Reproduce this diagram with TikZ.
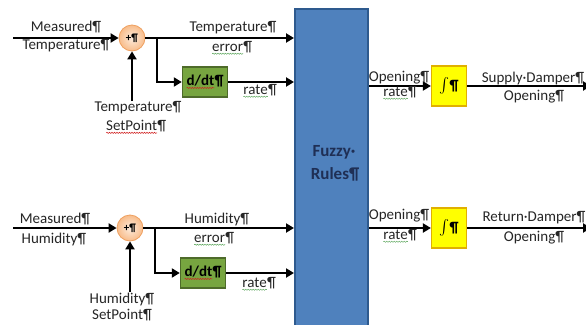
\documentclass[tikz,border=0pt]{standalone}
\usepackage{graphicx}
\usepackage{fontspec}
\setmainfont{Carlito}
\usetikzlibrary{arrows.meta,decorations.pathmorphing}

\definecolor{txt}{HTML}{262626}
\definecolor{blueF}{HTML}{4F81BD}
\definecolor{blueD}{HTML}{2E5A8E}
\definecolor{navy}{HTML}{1F2F55}
\definecolor{greenF}{HTML}{77A540}
\definecolor{greenD}{HTML}{4E6B2A}
\definecolor{yelF}{HTML}{FFFF00}
\definecolor{yelD}{HTML}{E0B000}
\definecolor{peachI}{HTML}{FDECDD}
\definecolor{peachO}{HTML}{F8BC8A}
\definecolor{peachD}{HTML}{EFA060}
\definecolor{spellR}{HTML}{D02020}
\definecolor{spellG}{HTML}{50A050}

% word with a wavy proofing underline
\newcommand{\squig}[2]{\tikz[baseline=(sq.base)]{\node[shape=rectangle,draw=none,fill=none,minimum width=0pt,minimum height=0pt,inner sep=0pt,outer sep=0pt](sq){#2};\draw[#1,line width=0.5pt,decorate,decoration={snake,amplitude=0.6pt,segment length=2.5pt}]([yshift=-2.2pt]sq.base west)--([yshift=-2.2pt]sq.base east);}}
% integrator symbol
\newcommand{\intsym}{\raisebox{-1pt}{\scalebox{1.5}{$\int$}}}

\begin{document}
\begin{tikzpicture}[x=1pt,y=-1pt,
  wire/.style={line width=2.5pt,draw=black},
  arr/.style={wire,-{Triangle[length=8pt,width=9pt]}},
  lbl/.style={font=\fontsize{15}{15}\selectfont,text=txt,inner sep=0pt},
  sumnode/.style={circle,minimum size=26pt,inner sep=0pt,draw=peachD,line width=0.8pt,
    inner color=peachI,outer color=peachO,font=\bfseries\fontsize{11}{11}\selectfont},
  derivbox/.style={rectangle,minimum width=45pt,minimum height=30pt,inner sep=0pt,
    fill=greenF,draw=greenD,line width=1.4pt,font=\bfseries\fontsize{15}{15}\selectfont},
  intbox/.style={rectangle,minimum width=35pt,minimum height=40pt,inner sep=0pt,
    fill=yelF,draw=yelD,line width=1.2pt,font=\bfseries\fontsize{15}{15}\selectfont},
  rulebox/.style={rectangle,minimum width=73pt,minimum height=326pt,inner sep=0pt,
    fill=blueF,draw=blueD,line width=2pt},
  rulelbl/.style={font=\bfseries\fontsize{17}{17}\selectfont,text=navy,inner sep=0pt}]

\useasboundingbox (0,0) rectangle (586,324);
\fill[white] (0,0) rectangle (586,324);

% central rule block
\node[rulebox,anchor=north west] (fuzzy) at (294,8) {};
\node[rulelbl] (fuzzy1) at (334,152) {Fuzzy·};
\node[rulelbl] (fuzzy2) at (335,174) {Rules¶};

% ---------- temperature branch ----------
\node[sumnode] (sumT) at (132,38) {+¶};
\node[derivbox] (ddtT) at (205,82) {\squig{spellR}{d/dt}¶};
\node[intbox] (intT) at (449,86) {\intsym¶};
\coordinate (inT) at (13,38);
\coordinate (brT) at (157,38);
\coordinate (spT) at (132,101);
\coordinate (outT) at (591,86);

\draw[arr] (inT) -- (sumT.west);
\draw[arr] (sumT.east) -- (sumT.east -| fuzzy.west);
\draw[arr] (brT) |- (ddtT.west);
\draw[arr] (ddtT.east) -- (ddtT.east -| fuzzy.west);
\draw[arr] (spT) -- (sumT.south);
\draw[arr] (intT.west -| fuzzy.east) -- (intT.west);
\draw[arr] (intT.east) -- (outT);

\node[lbl] (mT1) at (66,27) {Measured¶};
\node[lbl] (mT2) at (66,46) {Temperature¶};
\node[lbl] (eT1) at (233,28) {Temperature¶};
\node[lbl] (eT2) at (232,48) {\squig{spellG}{error}¶};
\node[lbl] (rT) at (260,91) {\squig{spellG}{rate}¶};
\node[lbl] (sT1) at (138,108) {Temperature¶};
\node[lbl] (sT2) at (136,127) {\squig{spellR}{SetPoint}¶};
\node[lbl] (oT1) at (399,78) {Opening¶};
\node[lbl] (oT2) at (400,93) {\squig{spellG}{rate}¶};
\node[lbl] (dT1) at (533,78) {Supply·Damper¶};
\node[lbl] (dT2) at (534,97) {Opening¶};

% ---------- humidity branch ----------
\node[sumnode] (sumH) at (130,228) {+¶};
\node[derivbox] (ddtH) at (203,273) {\squig{spellR}{d/dt}¶};
\node[intbox] (intH) at (449,228) {\intsym¶};
\coordinate (inH) at (13,228);
\coordinate (brH) at (155,228);
\coordinate (spH) at (130,292);
\coordinate (outH) at (591,228);

\draw[arr] (inH) -- (sumH.west);
\draw[arr] (sumH.east) -- (sumH.east -| fuzzy.west);
\draw[arr] (brH) |- (ddtH.west);
\draw[arr] (ddtH.east) -- (ddtH.east -| fuzzy.west);
\draw[arr] (spH) -- (sumH.south);
\draw[arr] (intH.west -| fuzzy.east) -- (intH.west);
\draw[arr] (intH.east) -- (outH);

\node[lbl] (mH1) at (55,219) {Measured¶};
\node[lbl] (mH2) at (54,239) {Humidity¶};
\node[lbl] (eH1) at (217,219) {Humidity¶};
\node[lbl] (eH2) at (214,239) {\squig{spellG}{error}¶};
\node[lbl] (rH) at (259,284) {\squig{spellG}{rate}¶};
\node[lbl] (sH1) at (122,299) {Humidity¶};
\node[lbl] (sH2) at (122,315) {SetPoint¶};
\node[lbl] (oH1) at (399,216) {Opening¶};
\node[lbl] (oH2) at (400,236) {\squig{spellG}{rate}¶};
\node[lbl] (dH1) at (534,218) {Return·Damper¶};
\node[lbl] (dH2) at (534,238) {Opening¶};
\end{tikzpicture}
\end{document}
